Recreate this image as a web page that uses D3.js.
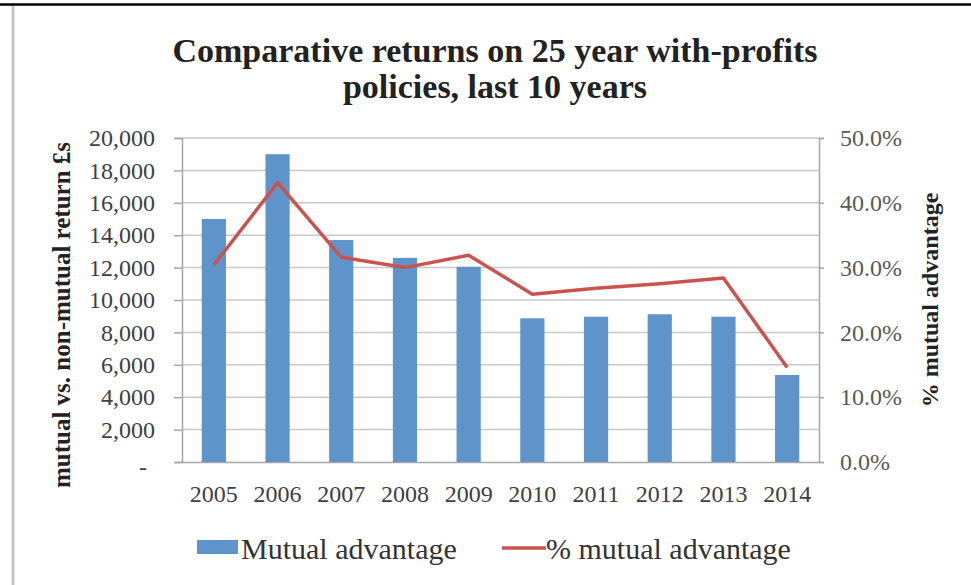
<!DOCTYPE html>
<meta charset="utf-8">
<style>
  body { margin: 0; background: #fff; }
  svg { font-family: "Liberation Serif", serif; }
</style>
<svg id="chart" width="971" height="585"></svg>
<script src="https://d3js.org/d3.v7.min.js"></script>
<script>
// ---- data ----
var years = ["2005", "2006", "2007", "2008", "2009", "2010", "2011", "2012", "2013", "2014"];
var mutualAdvantage = [15000, 19000, 13700, 12600, 12050, 8870, 8970, 9120, 8970, 5370];
var pctAdvantage = [0.304, 0.431, 0.316, 0.300, 0.319, 0.259, 0.268, 0.275, 0.284, 0.146];
var leftTicks = [0, 2000, 4000, 6000, 8000, 10000, 12000, 14000, 16000, 18000, 20000];
var rightTicks = [0, 0.1, 0.2, 0.3, 0.4, 0.5];

var svg = d3.select("#chart");

// frame around the picture
svg.append("line").attr("x1", 0).attr("x2", 971).attr("y1", 4.5).attr("y2", 4.5)
   .attr("stroke", "#000").attr("stroke-width", 2.5);
svg.append("line").attr("x1", 13).attr("x2", 13).attr("y1", 6).attr("y2", 585)
   .attr("stroke", "#c4c4c4").attr("stroke-width", 3);

// plot area
var plotL = 182, plotR = 819, plotT = 138, plotB = 462;

var x = d3.scaleBand().domain(years).range([plotL, plotR])
    .paddingInner(0.62).paddingOuter(0.31);
var y = d3.scaleLinear().domain([0, 20000]).range([plotB, plotT]);
var y2 = d3.scaleLinear().domain([0, 0.5]).range([plotB, plotT]);

// gridlines
svg.append("g").selectAll("line")
  .data(leftTicks.slice(1))
  .enter().append("line")
    .attr("x1", plotL).attr("x2", plotR)
    .attr("y1", function(d) { return y(d); })
    .attr("y2", function(d) { return y(d); })
    .attr("stroke", "#c8c8c8").attr("stroke-width", 1.5);

// left axis
var gl = svg.append("g")
    .attr("transform", "translate(" + plotL + ",0)")
    .call(d3.axisLeft(y).tickValues(leftTicks).tickSize(8).tickPadding(19)
      .tickFormat(function(d) { return d === 0 ? "-" : d3.format(",")(d); }));
gl.selectAll(".tick text")
  .filter(function(d) { return d === 0; }).attr("dx", -8).attr("dy", "0.5em");

// right axis
var gr = svg.append("g")
    .attr("transform", "translate(" + plotR + ",0)")
    .call(d3.axisRight(y2).tickValues(rightTicks).tickSize(5).tickPadding(16)
      .tickFormat(d3.format(".1%")));

// bottom axis
var gb = svg.append("g")
    .attr("transform", "translate(0," + plotB + ")")
    .call(d3.axisBottom(x).tickSize(0).tickPadding(23));

[gl, gr, gb].forEach(function(g) {
  g.attr("font-family", "'Liberation Serif', serif").attr("font-size", 24);
  g.selectAll(".tick text").attr("fill", "#404040");
  g.select(".domain").attr("stroke", "#a6a6a6").attr("stroke-width", 1.5);
  g.selectAll(".tick line").attr("stroke", "#a6a6a6").attr("stroke-width", 1.5);
});
gr.selectAll(".tick text").attr("fill", "#595959");

// bars
svg.append("g").selectAll("rect")
  .data(mutualAdvantage)
  .enter().append("rect")
    .attr("x", function(d, i) { return x(years[i]); })
    .attr("y", function(d) { return y(d); })
    .attr("width", x.bandwidth())
    .attr("height", function(d) { return plotB - y(d); })
    .attr("fill", "#5e94ca");

// line
var line = d3.line()
    .x(function(d, i) { return x(years[i]) + x.bandwidth() / 2; })
    .y(function(d) { return y2(d); });

svg.append("path")
    .datum(pctAdvantage)
    .attr("d", line)
    .attr("fill", "none")
    .attr("stroke", "#c9544f")
    .attr("stroke-width", 3.5)
    .attr("stroke-linejoin", "round");

// title
var title = svg.append("text")
    .attr("text-anchor", "middle")
    .attr("font-weight", "bold")
    .attr("font-size", 34)
    .attr("fill", "#222");
title.append("tspan").attr("x", 495).attr("y", 62).text("Comparative returns on 25 year with-profits");
title.append("tspan").attr("x", 495).attr("y", 98).text("policies, last 10 years");

// axis titles
svg.append("text")
    .attr("transform", "translate(70,315) rotate(-90)")
    .attr("text-anchor", "middle")
    .attr("font-weight", "bold")
    .attr("font-size", 25)
    .attr("fill", "#222")
    .text("mutual vs. non-mutual return £s");

svg.append("text")
    .attr("transform", "translate(938,300) rotate(-90)")
    .attr("text-anchor", "middle")
    .attr("font-weight", "bold")
    .attr("font-size", 24)
    .attr("fill", "#222")
    .text("% mutual advantage");

// legend
var legend = svg.append("g");
legend.append("rect")
    .attr("x", 197).attr("y", 540).attr("width", 41).attr("height", 14)
    .attr("fill", "#5e94ca");
legend.append("text")
    .attr("x", 241).attr("y", 559)
    .attr("font-size", 30).attr("fill", "#333")
    .text("Mutual advantage");
legend.append("line")
    .attr("x1", 502).attr("x2", 546).attr("y1", 548).attr("y2", 548)
    .attr("stroke", "#c9544f").attr("stroke-width", 3.5);
legend.append("text")
    .attr("x", 546).attr("y", 559)
    .attr("font-size", 30).attr("fill", "#333")
    .text("% mutual advantage");
</script>
